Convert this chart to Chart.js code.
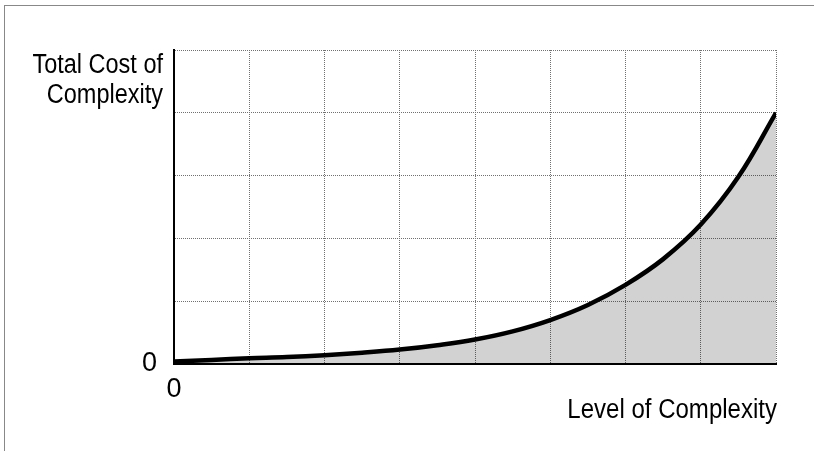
<!DOCTYPE html>
<html>
<head>
<meta charset="utf-8">
<script src="https://cdn.jsdelivr.net/npm/chart.js@4.4.1/dist/chart.umd.min.js"></script>
<style>
  html, body { margin: 0; padding: 0; background: #fff; overflow: hidden; }
  #frame {
    position: absolute; left: 4px; top: 5px; width: 810px; height: 446px;
    border-top: 1px solid #888; border-left: 1px solid #888; box-sizing: border-box;
  }
  #wrap { position: absolute; left: 0; top: 0; width: 814px; height: 451px; }
</style>
</head>
<body>
<div id="frame"></div>
<div id="wrap"><canvas id="chart" width="814" height="451"></canvas></div>
<script>
// values (x = level of complexity, y = total cost)
const levels = [0, 0.5, 1, 1.5, 2, 2.5, 3, 3.5, 4, 4.5, 5, 5.5, 6, 6.5, 7, 7.5, 8];
const costs = [0.04, 0.065, 0.09, 0.11, 0.14, 0.18, 0.23, 0.30, 0.39, 0.52, 0.70, 0.94, 1.26, 1.67, 2.22, 2.98, 4.0];
const xTickLabels = ["0"];
const yTickLabels = ["0"];
const yTitle = ["Total Cost of", "Complexity"];
const xTitle = "Level of Complexity";

const FONT = "Liberation Sans, Arial, Helvetica, sans-serif";

// axis titles sit horizontally, so draw them ourselves
const titlesPlugin = {
  id: "titles",
  afterDraw(chart) {
    const { ctx, chartArea } = chart;
    ctx.save();
    ctx.fillStyle = "#000";
    ctx.font = "27px " + FONT;
    ctx.textAlign = "right";
    ctx.textBaseline = "alphabetic";
    const drawNarrow = (txt, x, y, sx) => {
      ctx.save();
      ctx.translate(x, y);
      ctx.scale(sx, 1);
      ctx.fillText(txt, 0, 0);
      ctx.restore();
    };
    yTitle.forEach((line, i) => drawNarrow(line, chartArea.left - 11, chartArea.top + 23 + i * 30, 0.87));
    drawNarrow(xTitle, chartArea.right + 1, chartArea.bottom + 54, 0.89);
    ctx.restore();
  }
};

const gridOpts = { color: "#707070", lineWidth: 1, drawTicks: false };
const borderOpts = { color: "#000", width: 2, dash: [1, 1] };

new Chart(document.getElementById("chart"), {
  type: "line",
  data: {
    datasets: [{
      data: levels.map((x, i) => ({ x: x, y: costs[i] })),
      borderColor: "#000",
      borderWidth: 4.5,
      backgroundColor: "rgba(0,0,0,0.175)",
      fill: "origin",
      pointRadius: 0,
      tension: 0.4
    }]
  },
  options: {
    responsive: false,
    animation: false,
    events: [],
    layout: { padding: { left: 0, right: 38, top: 50, bottom: 0 } },
    plugins: { legend: { display: false }, tooltip: { enabled: false } },
    scales: {
      x: {
        type: "linear", min: 0, max: 8,
        grid: gridOpts, border: borderOpts,
        ticks: {
          stepSize: 1, autoSkip: false, maxRotation: 0, padding: 9,
          color: "#000", font: { family: FONT, size: 27 },
          callback: (v) => (v === 0 ? xTickLabels[0] : "")
        },
        afterFit: (s) => { s.height = 87; }
      },
      y: {
        min: 0, max: 5,
        grid: gridOpts, border: borderOpts,
        ticks: {
          stepSize: 1, autoSkip: false, padding: 17,
          color: "#000", font: { family: FONT, size: 27 },
          callback: (v) => (v === 0 ? yTickLabels[0] : "")
        },
        afterFit: (s) => { s.width = 174; }
      }
    }
  },
  plugins: [titlesPlugin]
});
</script>
</body>
</html>
